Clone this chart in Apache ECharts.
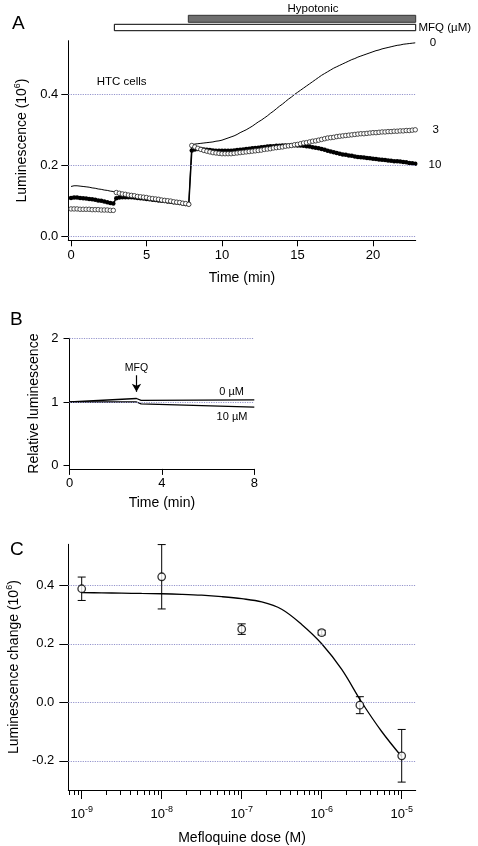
<!DOCTYPE html>
<html><head><meta charset="utf-8">
<script src="https://cdn.jsdelivr.net/npm/echarts@6/dist/echarts.min.js"></script>
<style>html,body{margin:0;padding:0;background:#fff}#c{width:478px;height:846px}</style>
</head><body><div id="c"></div>
<script>
// ---------- Panel A : luminescence time courses (HTC cells) ----------
const timeMin = [
0,0.2,0.4,0.6,0.8,1,1.2,1.4,1.6,1.8,
2,2.2,2.4,2.6,2.8,3,3.2,3.4,3.6,3.8,
4,4.2,4.4,4.6,4.8,5,5.2,5.4,5.6,5.8,
6,6.2,6.4,6.6,6.8,7,7.2,7.4,7.6,7.8,
8,8.2,8.4,8.6,8.8,9,9.2,9.4,9.6,9.8,
10,10.2,10.4,10.6,10.8,11,11.2,11.4,11.6,11.8,
12,12.2,12.4,12.6,12.8,13,13.2,13.4,13.6,13.8,
14,14.2,14.4,14.6,14.8,15,15.2,15.4,15.6,15.8,
16,16.2,16.4,16.6,16.8,17,17.2,17.4,17.6,17.8,
18,18.2,18.4,18.6,18.8,19,19.2,19.4,19.6,19.8,
20,20.2,20.4,20.6,20.8,21,21.2,21.4,21.6,21.8,
22,22.2,22.4,22.6,22.8];
const lum0uM = [
0.141,0.143,0.143,0.142,0.141,0.140,0.139,0.137,0.136,0.134,
0.133,0.131,0.130,0.128,0.127,0.124,0.122,0.120,0.119,0.117,
0.116,0.115,0.113,0.112,0.111,0.110,0.108,0.107,0.106,0.105,
0.103,0.102,0.101,0.100,0.098,0.097,0.096,0.094,0.093,0.091,
0.258,0.260,0.261,0.262,0.263,0.264,0.265,0.266,0.268,0.269,
0.271,0.274,0.277,0.280,0.283,0.287,0.292,0.296,0.300,0.305,
0.310,0.316,0.322,0.327,0.333,0.339,0.346,0.352,0.359,0.366,
0.372,0.379,0.386,0.392,0.399,0.405,0.411,0.417,0.423,0.429,
0.435,0.441,0.447,0.453,0.458,0.463,0.468,0.473,0.477,0.481,
0.485,0.489,0.493,0.497,0.500,0.504,0.507,0.510,0.513,0.516,
0.519,0.522,0.524,0.527,0.529,0.531,0.533,0.535,0.537,0.538,
0.540,0.541,0.542,0.543,0.544];
const lum3uM = [
0.078,0.078,0.078,0.077,0.077,0.077,0.077,0.076,0.076,0.076,
0.075,0.075,0.075,0.074,0.074,0.124,0.122,0.120,0.119,0.117,
0.116,0.115,0.113,0.112,0.111,0.110,0.108,0.107,0.106,0.105,
0.103,0.102,0.101,0.100,0.098,0.097,0.096,0.094,0.093,0.091,
0.256,0.252,0.248,0.245,0.242,0.240,0.238,0.236,0.235,0.234,
0.233,0.233,0.233,0.233,0.234,0.235,0.236,0.237,0.238,0.239,
0.240,0.241,0.242,0.243,0.245,0.246,0.247,0.249,0.250,0.251,
0.252,0.254,0.255,0.256,0.258,0.259,0.261,0.263,0.264,0.266,
0.268,0.269,0.271,0.273,0.275,0.277,0.278,0.279,0.281,0.282,
0.283,0.284,0.285,0.286,0.287,0.288,0.289,0.289,0.290,0.291,
0.292,0.292,0.293,0.294,0.294,0.295,0.295,0.296,0.296,0.297,
0.297,0.298,0.298,0.299,0.300];
const lum10uM = [
0.109,0.110,0.110,0.109,0.108,0.107,0.106,0.105,0.104,0.102,
0.101,0.099,0.097,0.095,0.093,0.108,0.110,0.111,0.111,0.111,
0.111,0.110,0.109,0.108,0.107,0.106,0.105,0.104,0.103,0.102,
0.101,0.100,0.099,0.098,0.097,0.096,0.095,0.093,0.092,0.091,
0.242,0.245,0.246,0.246,0.245,0.244,0.243,0.242,0.241,0.241,
0.241,0.241,0.241,0.241,0.242,0.243,0.244,0.245,0.246,0.247,
0.248,0.249,0.250,0.251,0.252,0.253,0.254,0.254,0.255,0.255,
0.256,0.256,0.256,0.257,0.257,0.256,0.256,0.255,0.254,0.253,
0.251,0.250,0.248,0.246,0.244,0.241,0.239,0.237,0.235,0.233,
0.231,0.230,0.228,0.227,0.225,0.224,0.223,0.222,0.221,0.220,
0.219,0.218,0.217,0.216,0.215,0.214,0.213,0.212,0.212,0.211,
0.210,0.209,0.207,0.206,0.205];
const treatmentBars = ['Hypotonic', 'MFQ'];
const treatmentStart = [7.77, 2.87];
const treatmentEnd = [22.83, 22.83];
const ticksAx = [0, 5, 10, 15, 20];
const ticksAy = [0, 0.2, 0.4];

// ---------- Panel B : relative luminescence ----------
const timeB = [0, 2.9, 3.1, 8];
const rel0uM = [1.0, 1.055, 1.025, 1.035];
const rel10uM = [1.0, 1.0, 0.97, 0.92];
const mfqAddTime = 2.9;
const ticksBx = [0, 4, 8];
const ticksBy = [0, 1, 2];

// ---------- Panel C : dose response ----------
const doseM = [1e-9, 1e-8, 1e-7, 1e-6, 3e-6, 1e-5];
const meanChange = [0.388, 0.429, 0.250, 0.238, -0.010, -0.183];
const semChange = [0.040, 0.110, 0.018, 0.008, 0.029, 0.090];
const fitDose = [1e-9, 1.78e-9, 3.16e-9, 5.62e-9, 1e-8, 1.78e-8, 3.16e-8, 5.62e-8,
  1e-7, 1.78e-7, 3.16e-7, 5.62e-7, 1e-6, 1.78e-6, 3.16e-6, 5.62e-6, 1e-5];
const fitChange = [0.375, 0.374, 0.373, 0.372, 0.371, 0.369, 0.366, 0.361,
  0.354, 0.343, 0.318, 0.266, 0.200, 0.112, 0.000, -0.100, -0.186];
const ticksCxExp = [-9, -8, -7, -6, -5];
const minorDoseC = [7e-10, 8e-10, 9e-10,
  2e-9, 3e-9, 4e-9, 5e-9, 6e-9, 7e-9, 8e-9, 9e-9,
  2e-8, 3e-8, 4e-8, 5e-8, 6e-8, 7e-8, 8e-8, 9e-8,
  2e-7, 3e-7, 4e-7, 5e-7, 6e-7, 7e-7, 8e-7, 9e-7,
  2e-6, 3e-6, 4e-6, 5e-6, 6e-6, 7e-6, 8e-6, 9e-6];
const ticksCy = [-0.2, 0, 0.2, 0.4];

// ---------- styles ----------
const FONT = 'Liberation Sans, Arial, Helvetica, sans-serif';
const GRIDCOL = '#9494cc';
const lg = Math.log10;

function gridLines(xi, yi, vals) {
  return {
    type: 'line', xAxisIndex: xi, yAxisIndex: yi, data: [], z: 1, silent: true,
    markLine: {
      silent: true, symbol: ['none', 'none'], animation: false,
      label: { show: false },
      lineStyle: { color: GRIDCOL, type: [1.2, 1.2], width: 1 },
      data: vals.map(v => ({ yAxis: v }))
    }
  };
}
const txt = (text, x, y, size, align) => ({
  type: 'text', x: x, y: y, silent: true,
  style: { text: text, fontSize: size, fontFamily: FONT, fill: '#000', align: align || 'left', verticalAlign: 'middle' }
});
const axisLbl = (extra) => Object.assign({ color: '#000', fontSize: 13, fontFamily: FONT }, extra);
const axLine = { show: true, onZero: false, lineStyle: { color: '#000', width: 1 } };
const nameStyle = { color: '#000', fontSize: 14, fontFamily: FONT };
const supRich = {
  a: { fontSize: 14, fontFamily: FONT, color: '#000', lineHeight: 18, verticalAlign: 'bottom' },
  s: { fontSize: 9, fontFamily: FONT, color: '#000', lineHeight: 10, verticalAlign: 'bottom', padding: [0, 0, 7, 0] }
};

const chart = echarts.init(document.getElementById('c'), null, { renderer: 'canvas' });
chart.setOption({
  animation: false,
  backgroundColor: '#fff',
  textStyle: { fontFamily: FONT },
  grid: [
    { left: 68.3, top: 40.7, width: 347.4, height: 199.6, containLabel: false, outerBoundsMode: 'none' },
    { left: 69.5, top: 338.3, width: 184.8, height: 130.6, containLabel: false, outerBoundsMode: 'none' },
    { left: 68.3, top: 544.3, width: 347.4, height: 245.7, containLabel: false, outerBoundsMode: 'none' }
  ],
  xAxis: [
    { gridIndex: 0, type: 'value', min: -0.18, max: 22.83,
      axisLine: axLine, splitLine: { show: false },
      axisTick: { customValues: ticksAx, length: 6, lineStyle: { color: '#000' } },
      axisLabel: axisLbl({ customValues: ticksAx, margin: 9 }),
      name: 'Time (min)', nameLocation: 'middle', nameGap: 31, nameTextStyle: nameStyle },
    { gridIndex: 1, type: 'value', min: 0, max: 8,
      axisLine: axLine, splitLine: { show: false },
      axisTick: { customValues: ticksBx, length: 6, lineStyle: { color: '#000' } },
      axisLabel: axisLbl({ customValues: ticksBx, margin: 8 }),
      name: 'Time (min)', nameLocation: 'middle', nameGap: 27, nameTextStyle: nameStyle },
    { gridIndex: 2, type: 'value', min: -9.1675, max: -4.825,
      axisLine: axLine, splitLine: { show: false },
      axisTick: { customValues: ticksCxExp, length: 9, lineStyle: { color: '#000' } },
      axisLabel: axisLbl({ customValues: ticksCxExp, margin: 15,
        formatter: v => '{b|10}{s|' + v + '}',
        rich: { b: { fontSize: 13, fontFamily: FONT, color: '#000', lineHeight: 16, verticalAlign: 'bottom' },
                s: { fontSize: 9, fontFamily: FONT, color: '#000', lineHeight: 10, verticalAlign: 'bottom', padding: [0, 0, 7, 0] } } }),
      name: 'Mefloquine dose (M)', nameLocation: 'middle', nameGap: 41, nameTextStyle: nameStyle },
    { gridIndex: 2, type: 'value', min: -9.1675, max: -4.825, position: 'bottom',
      axisLine: { show: false, onZero: false }, splitLine: { show: false },
      axisTick: { customValues: minorDoseC.map(lg), length: 5, lineStyle: { color: '#000' } },
      axisLabel: { show: false } }
  ],
  yAxis: [
    { gridIndex: 0, type: 'value', min: -0.01, max: 0.55,
      axisLine: axLine, splitLine: { show: false },
      axisTick: { customValues: ticksAy, length: 7, lineStyle: { color: '#000' } },
      axisLabel: axisLbl({ customValues: ticksAy, margin: 10, formatter: v => v.toFixed(1) }),
      name: '{a|Luminescence (10}{s|6}{a|)}', nameLocation: 'middle', nameGap: 36,
      nameTextStyle: { rich: supRich } },
    { gridIndex: 1, type: 'value', min: -0.05, max: 2,
      axisLine: axLine, splitLine: { show: false },
      axisTick: { customValues: ticksBy, length: 6, lineStyle: { color: '#000' } },
      axisLabel: axisLbl({ customValues: ticksBy, margin: 11, formatter: v => String(v) }),
      name: 'Relative luminescence', nameLocation: 'middle', nameGap: 28, nameTextStyle: nameStyle },
    { gridIndex: 2, type: 'value', min: -0.3, max: 0.54,
      axisLine: axLine, splitLine: { show: false },
      axisTick: { customValues: ticksCy, length: 9, lineStyle: { color: '#000' } },
      axisLabel: axisLbl({ customValues: ticksCy, margin: 14, formatter: v => v.toFixed(1) }),
      name: '{a|Luminescence change (10}{s|6}{a|)}', nameLocation: 'middle', nameGap: 41,
      nameTextStyle: { rich: supRich } }
  ],
  series: [
    // ---- panel A
    gridLines(0, 0, ticksAy),
    { type: 'custom', xAxisIndex: 0, yAxisIndex: 0, clip: false, z: 5, silent: true,
      data: treatmentBars.map((n, i) => [treatmentStart[i], treatmentEnd[i]]),
      encode: { x: [0, 1] },
      renderItem: (params, api) => {
        const x0 = api.coord([api.value(0), 0])[0];
        const x1 = api.coord([api.value(1), 0])[0];
        const top = params.coordSys.y;
        const hyp = params.dataIndex === 0;
        return { type: 'rect',
          shape: { x: x0, y: hyp ? top - 25.4 : top - 16.4, width: x1 - x0, height: hyp ? 7 : 6.4 },
          style: { fill: hyp ? '#6f6f6f' : '#fff', stroke: hyp ? '#333' : '#000', lineWidth: 1 } };
      } },
    { name: '10', type: 'line', xAxisIndex: 0, yAxisIndex: 0, z: 2,
      data: timeMin.map((t, i) => [t, lum10uM[i]]),
      showSymbol: true, showAllSymbol: true, symbol: 'circle', symbolSize: 4.5,
      itemStyle: { color: '#000' }, lineStyle: { color: '#000', width: 1.5 } },
    { name: '0', type: 'line', xAxisIndex: 0, yAxisIndex: 0, z: 3,
      data: timeMin.map((t, i) => [t, lum0uM[i]]),
      showSymbol: false, lineStyle: { color: '#000', width: 1 } },
    { name: '3', type: 'line', xAxisIndex: 0, yAxisIndex: 0, z: 4,
      data: timeMin.map((t, i) => [t, lum3uM[i]]),
      showSymbol: true, showAllSymbol: true, symbol: 'circle', symbolSize: 4.5,
      itemStyle: { color: '#fff', borderColor: '#222', borderWidth: 0.8 },
      lineStyle: { width: 0, opacity: 0 } },
    // ---- panel B
    gridLines(1, 1, [1, 2]),
    { type: 'line', xAxisIndex: 1, yAxisIndex: 1, z: 3, data: timeB.map((t, i) => [t, rel0uM[i]]),
      showSymbol: false, lineStyle: { color: '#000', width: 1.3 } },
    { type: 'line', xAxisIndex: 1, yAxisIndex: 1, z: 3, data: timeB.map((t, i) => [t, rel10uM[i]]),
      showSymbol: false, lineStyle: { color: '#000', width: 1.3 },
      markLine: { silent: true, animation: false, symbol: ['none', 'arrow'], symbolSize: [7, 8],
        lineStyle: { color: '#000', width: 1.2, type: 'solid' },
        label: { show: true, position: 'start', distance: 2, formatter: 'MFQ', color: '#000', fontSize: 10.5, fontFamily: FONT },
        data: [[{ coord: [mfqAddTime, 1.42] }, { coord: [mfqAddTime, 1.16] }]] } },
    // ---- panel C
    gridLines(2, 2, ticksCy),
    { type: 'line', xAxisIndex: 2, yAxisIndex: 2, z: 3,
      data: fitDose.map((d, i) => [lg(d), fitChange[i]]),
      showSymbol: false, smooth: 0.35, lineStyle: { color: '#000', width: 1.3 } },
    { type: 'custom', xAxisIndex: 2, yAxisIndex: 2, z: 4, silent: true,
      data: doseM.map((d, i) => [lg(d), meanChange[i], semChange[i]]),
      encode: { x: 0, y: 1 },
      renderItem: (params, api) => {
        const x = api.value(0), y = api.value(1), e = api.value(2);
        const p1 = api.coord([x, y + e]), p2 = api.coord([x, y - e]);
        const st = { stroke: '#000', lineWidth: 1 };
        return { type: 'group', children: [
          { type: 'line', shape: { x1: p1[0], y1: p1[1], x2: p2[0], y2: p2[1] }, style: st },
          { type: 'line', shape: { x1: p1[0] - 4, y1: p1[1], x2: p1[0] + 4, y2: p1[1] }, style: st },
          { type: 'line', shape: { x1: p2[0] - 4, y1: p2[1], x2: p2[0] + 4, y2: p2[1] }, style: st }
        ] };
      } },
    { type: 'scatter', xAxisIndex: 2, yAxisIndex: 2, z: 5,
      data: doseM.map((d, i) => [lg(d), meanChange[i]]),
      symbol: 'circle', symbolSize: 7.5,
      itemStyle: { color: '#fff', borderColor: '#000', borderWidth: 1.3 } }
  ],
  graphic: [
    txt('A', 12, 23.5, 19),
    txt('B', 10, 320, 19),
    txt('C', 10, 550, 19),
    txt('Hypotonic', 313, 8.5, 11.5, 'center'),
    txt('MFQ (\u00b5M)', 418.5, 28, 11.5),
    txt('HTC cells', 96.7, 81.7, 11.5),
    txt('0', 433, 43, 11.5, 'center'),
    txt('3', 435.7, 130, 11.5, 'center'),
    txt('10', 435, 165, 11.5, 'center'),
    txt('0 \u00b5M', 231.7, 392.3, 11, 'center'),
    txt('10 \u00b5M', 232, 417.3, 11, 'center')
  ]
});
</script>
</body></html>
